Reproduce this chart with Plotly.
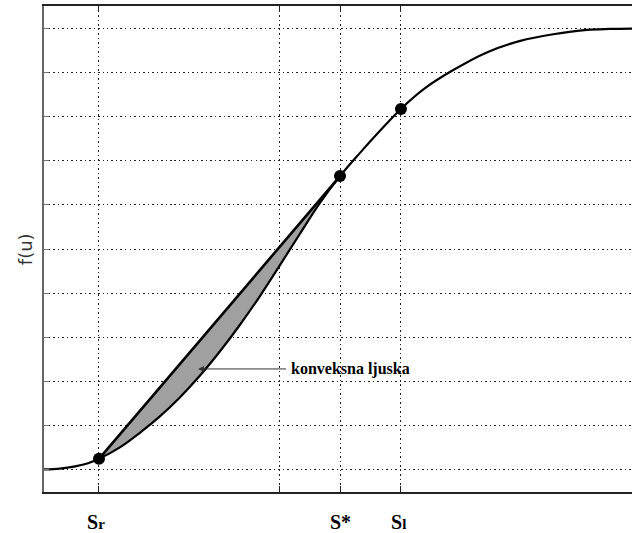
import plotly.graph_objects as go

# Flux curve f(u) (u normalised 0..1 across the plot width)
curve_u = [0.000, 0.027, 0.053, 0.075, 0.0935, 0.129, 0.163, 0.197, 0.231, 0.265,
           0.299, 0.333, 0.367, 0.401, 0.435, 0.469, 0.5034, 0.537, 0.571, 0.607,
           0.648, 0.696, 0.753, 0.810, 0.866, 0.924, 0.963, 1.000]
curve_f = [0.001, 0.003, 0.008, 0.015, 0.025, 0.051, 0.084, 0.121, 0.164, 0.213,
           0.268, 0.328, 0.393, 0.463, 0.534, 0.604, 0.665, 0.717, 0.767, 0.817,
           0.864, 0.905, 0.945, 0.971, 0.986, 0.996, 0.998, 0.999]

# marked states
point_names = ["Sr", "S*", "Sl"]
point_u = [0.0935, 0.5034, 0.607]
point_f = [0.025, 0.665, 0.817]

# x ticks (the 0.401 tick has no label)
xtick_vals = [0.0935, 0.401, 0.5034, 0.607]
label_u = [0.088, 0.5045, 0.603]
label_text = ["<b>S</b><span style='font-size:15px'><b>r</b></span>",
              "<b>S*</b>",
              "<b>S</b><span style='font-size:15px'><b>l</b></span>"]
ytick_vals = [0.0, 0.1, 0.2, 0.3, 0.4, 0.5, 0.6, 0.7, 0.8, 0.9, 1.0]

hull_label = "konveksna ljuska"
ylabel = "f(u)"

# shaded region: chord Sr -> S*, then back along the curve
i0 = curve_u.index(point_u[0])
i1 = curve_u.index(point_u[1])
seg_u = curve_u[i0:i1 + 1]
seg_f = curve_f[i0:i1 + 1]
poly_u = [point_u[0], point_u[1]] + seg_u[::-1]
poly_f = [point_f[0], point_f[1]] + seg_f[::-1]

fig = go.Figure()
fig.add_trace(go.Scatter(x=poly_u, y=poly_f, mode="lines", fill="toself",
                         fillcolor="#a0a0a0", line=dict(width=0),
                         hoverinfo="skip", showlegend=False))
fig.add_trace(go.Scatter(x=curve_u, y=curve_f, mode="lines",
                         line=dict(color="black", width=2.2, shape="spline"),
                         showlegend=False))
fig.add_trace(go.Scatter(x=[point_u[0], point_u[1]], y=[point_f[0], point_f[1]],
                         mode="lines", line=dict(color="black", width=2.6),
                         showlegend=False))
fig.add_trace(go.Scatter(x=point_u, y=point_f, mode="markers",
                         marker=dict(color="black", size=12),
                         text=point_names, showlegend=False))

fig.add_annotation(x=0.262, y=0.2285, xref="x", yref="y",
                   text="<b>" + hull_label + "</b>",
                   font=dict(family="Liberation Serif", size=16, color="black"),
                   showarrow=True, arrowhead=2, arrowsize=1.2, arrowwidth=1,
                   arrowcolor="#333", ax=152, ay=0, borderpad=4)
fig.add_annotation(x=-0.032, y=0.5, xref="paper", yref="paper", text=ylabel,
                   textangle=-90, showarrow=False, xanchor="center", yanchor="middle",
                   font=dict(family="DejaVu Sans", size=18, color="#333"))
for u, t in zip(label_u, label_text):
    fig.add_annotation(x=u, y=-0.062, xref="x", yref="paper", text=t,
                       showarrow=False, xanchor="center", yanchor="middle",
                       font=dict(family="Liberation Serif", size=20, color="black"))

grid_dash = "1.5px,3px"
fig.update_xaxes(range=[0, 1], tickvals=xtick_vals, showticklabels=False,
                 ticks="inside", ticklen=6, tickcolor="#222", tickwidth=1,
                 showline=True, linecolor="#222", linewidth=1.5, mirror="ticks",
                 showgrid=True, gridcolor="#222", griddash=grid_dash, gridwidth=1,
                 zeroline=False, automargin=False)
fig.update_yaxes(range=[-0.05, 1.05], tickvals=ytick_vals, showticklabels=False,
                 ticks="inside", ticklen=5, tickcolor="#777", tickwidth=1,
                 showline=True, linecolor="#666", linewidth=1.5, mirror=False,
                 showgrid=True, gridcolor="#222", griddash=grid_dash, gridwidth=1,
                 zeroline=False, automargin=False)
fig.update_layout(width=632, height=533, margin=dict(l=44, r=0, t=6, b=41),
                  plot_bgcolor="white", paper_bgcolor="white")
fig.write_html("out.html", config={"displayModeBar": False},
               post_script="document.body.style.margin='0';document.body.style.overflow='hidden';")
